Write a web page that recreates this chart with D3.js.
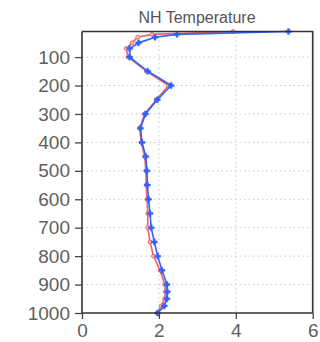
<!DOCTYPE html>
<html><head><meta charset="utf-8">
<script src="https://cdn.jsdelivr.net/npm/d3@7"></script>
<style>
html,body{margin:0;padding:0;background:#fff;}
svg{display:block;}
text{font-family:"Liberation Sans",Arial,sans-serif;}
</style></head>
<body>
<svg id="chart" width="320" height="342"></svg>
<script>
const title = "NH Temperature";
const levels = [10,20,30,50,70,100,150,200,250,300,350,400,450,500,550,600,650,700,750,800,850,900,925,950,975,1000];
const blueValues = [5.37,2.47,1.90,1.47,1.24,1.24,1.71,2.32,1.96,1.65,1.52,1.56,1.66,1.69,1.70,1.73,1.77,1.80,1.88,1.97,2.08,2.21,2.22,2.21,2.14,1.97];
const redValues  = [3.93,1.82,1.45,1.30,1.15,1.20,1.68,2.25,1.93,1.63,1.50,1.54,1.63,1.66,1.67,1.69,1.71,1.71,1.77,1.86,2.03,2.15,2.17,2.15,2.06,1.95];
const yTicks = [100,200,300,400,500,600,700,800,900,1000];
const xTicks = [0,2,4,6];

const svg = d3.select("#chart");
const x = d3.scaleLinear().domain([0,6]).range([82,312.7]);
const y = d3.scaleLinear().domain([10,1000]).range([31.5,313]);

// grid
const grid = svg.append("g").attr("stroke","#c8c8c8").attr("stroke-width",1).attr("stroke-dasharray","1.5,3");
grid.selectAll("line.h").data(yTicks.filter(d=>d<1000)).enter().append("line")
  .attr("x1",x(0)).attr("x2",x(6)).attr("y1",d=>y(d)).attr("y2",d=>y(d));
grid.selectAll("line.v").data(xTicks.filter(d=>d>0&&d<6)).enter().append("line")
  .attr("y1",y(10)).attr("y2",y(1000)).attr("x1",d=>x(d)).attr("x2",d=>x(d));

// lines
function drawSeries(vals, color, sym){
  const data = levels.map((p,i)=>({p, v:vals[i]}));
  svg.append("path").datum(data)
    .attr("fill","none").attr("stroke",color).attr("stroke-width",1.6).attr("stroke-linejoin","round")
    .attr("d", d3.line().x(d=>x(d.v)).y(d=>y(d.p)));
  svg.append("g").selectAll("path").data(data).enter().append("path")
    .attr("transform",d=>`translate(${x(d.v)},${y(d.p)})`)
    .attr("d", d3.symbol().type(sym).size(sym===d3.symbolCircle?12:20))
    .attr("fill", sym===d3.symbolCircle ? "#ffc0c0" : color)
    .attr("stroke", color).attr("stroke-width", sym===d3.symbolCircle?1:0.4);
}
drawSeries(redValues, "#f26262", d3.symbolCircle);
drawSeries(blueValues, "#3160ff", d3.symbolCross);

// axes
const yAxis = d3.axisLeft(y).tickValues(yTicks).tickFormat(d3.format("d")).tickSize(7).tickPadding(5);
const yg = svg.append("g").attr("transform",`translate(${x(0)},0)`).call(yAxis);
const xAxis = d3.axisBottom(x).tickValues(xTicks).tickFormat(d3.format("d")).tickSize(6).tickPadding(5);
const xg = svg.append("g").attr("transform",`translate(0,${y(1000)})`).call(xAxis);
[yg,xg].forEach(g=>{
  g.select(".domain").attr("stroke","#333").attr("stroke-width",1.6);
  g.selectAll(".tick line").attr("stroke","#444").attr("stroke-width",1.3);
  g.selectAll(".tick text").attr("fill","#606060").style("font-size","19px")
    .style("font-family","'Liberation Sans',Arial,sans-serif");
});
yg.select(".domain").attr("d",`M0,${y(10)}V${y(1000)}`);
xg.select(".domain").attr("d",`M${x(0)},0H${x(6)}`);
// box top/right
svg.append("path").attr("fill","none").attr("stroke","#333").attr("stroke-width",1.6)
  .attr("d",`M${x(0)},${y(10)}H${x(6)}V${y(1000)}`);

svg.append("text").attr("x",197).attr("y",22.5).attr("text-anchor","middle")
  .attr("fill","#555").style("font-size","16px").text(title);
</script>
</body></html>
